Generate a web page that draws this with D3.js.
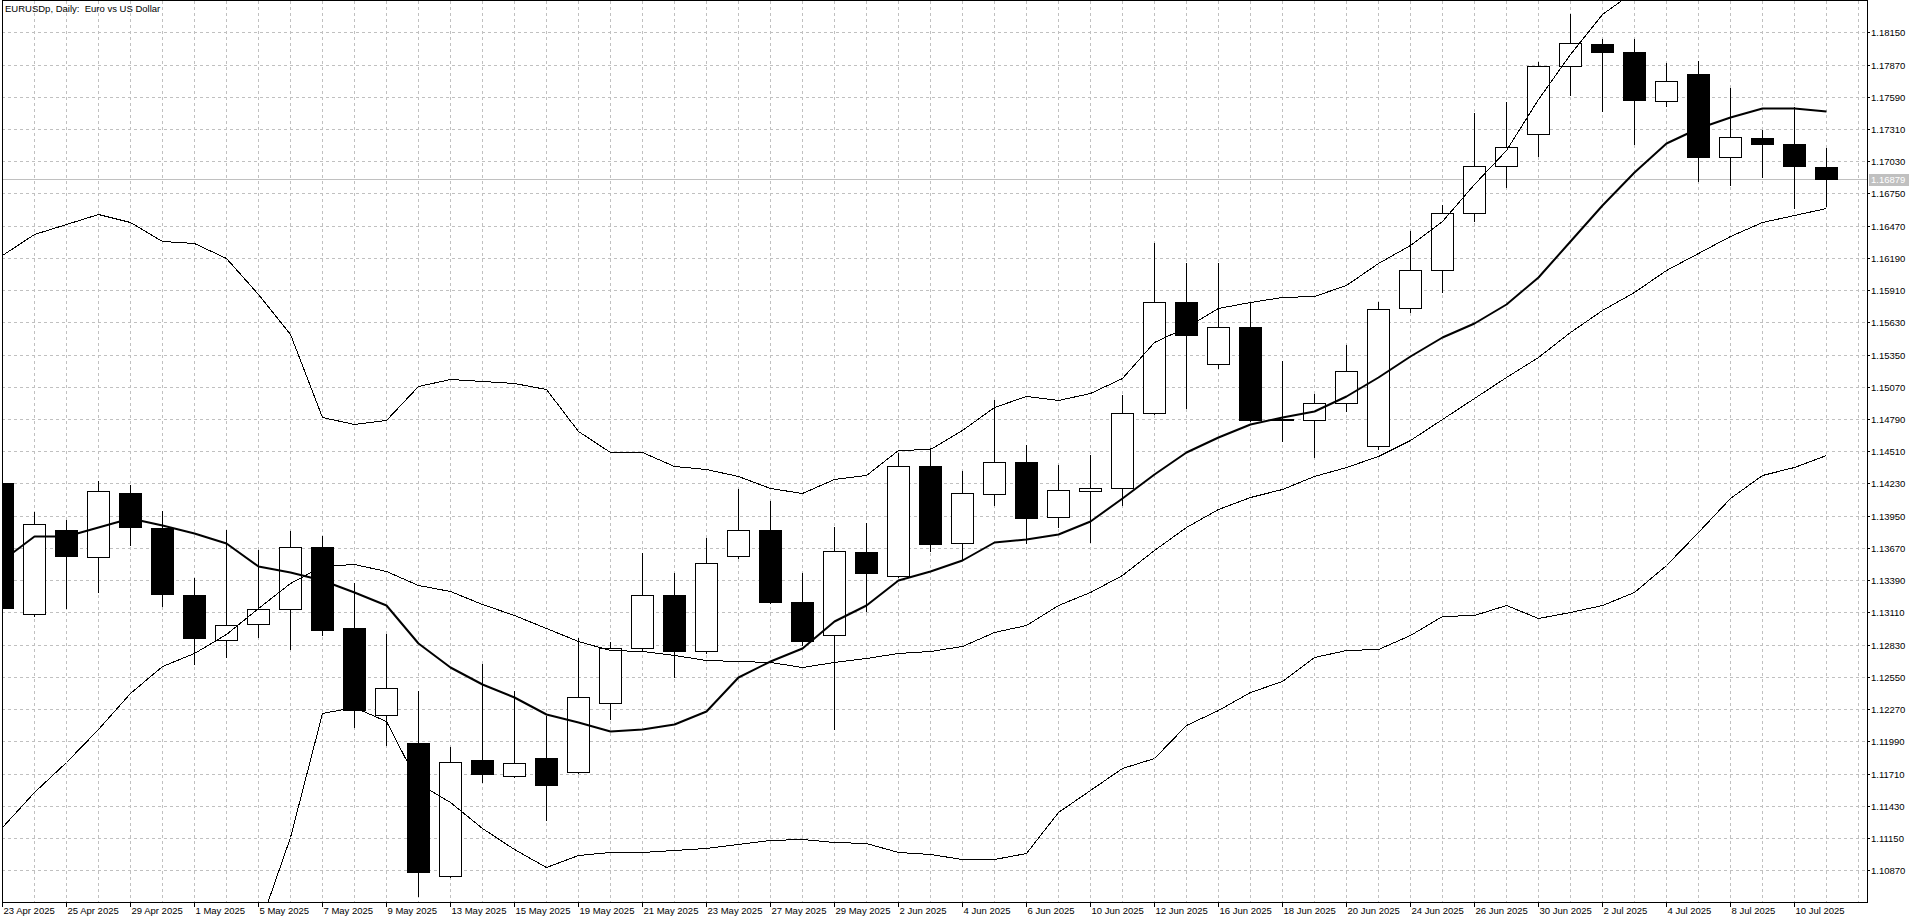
<!DOCTYPE html>
<html>
<head>
<meta charset="utf-8">
<title>EURUSDp, Daily</title>
<script src="https://cdn.jsdelivr.net/npm/d3@7"></script>
<style>
  html, body { margin: 0; padding: 0; background: #ffffff; }
  svg { display: block; font-family: "Liberation Sans", Arial, sans-serif; }
</style>
</head>
<body>
<svg id="chart" width="1920" height="923"></svg>
<script>
// daily bars
const dates = [
  "23 Apr 2025", "24 Apr 2025", "25 Apr 2025", "28 Apr 2025", "29 Apr 2025", "30 Apr 2025",
  "1 May 2025", "2 May 2025", "5 May 2025", "6 May 2025", "7 May 2025", "8 May 2025",
  "9 May 2025", "12 May 2025", "13 May 2025", "14 May 2025", "15 May 2025", "16 May 2025",
  "19 May 2025", "20 May 2025", "21 May 2025", "22 May 2025", "23 May 2025", "26 May 2025",
  "27 May 2025", "28 May 2025", "29 May 2025", "30 May 2025", "2 Jun 2025", "3 Jun 2025",
  "4 Jun 2025", "5 Jun 2025", "6 Jun 2025", "9 Jun 2025", "10 Jun 2025", "11 Jun 2025",
  "12 Jun 2025", "13 Jun 2025", "16 Jun 2025", "17 Jun 2025", "18 Jun 2025", "19 Jun 2025",
  "20 Jun 2025", "23 Jun 2025", "24 Jun 2025", "25 Jun 2025", "26 Jun 2025", "27 Jun 2025",
  "30 Jun 2025", "1 Jul 2025", "2 Jul 2025", "3 Jul 2025", "4 Jul 2025", "7 Jul 2025",
  "8 Jul 2025", "9 Jul 2025", "10 Jul 2025", "11 Jul 2025"
];

const open = [
  1.14231, 1.13092, 1.13829, 1.13594, 1.14151, 1.13840, 1.13257, 1.12866, 1.13007, 1.13137,
  1.13674, 1.12971, 1.12219, 1.11978, 1.10819, 1.11827, 1.11687, 1.11842, 1.11722, 1.12319,
  1.12801, 1.13257, 1.12776, 1.13599, 1.13829, 1.13202, 1.12911, 1.13634, 1.13428, 1.14381,
  1.13714, 1.14141, 1.14417, 1.13935, 1.14166, 1.14191, 1.14843, 1.15807, 1.15265, 1.15586,
  1.14790, 1.14778, 1.14933, 1.14552, 1.15751, 1.16083, 1.16579, 1.16991, 1.17267, 1.17854,
  1.18050, 1.17979, 1.17553, 1.17789, 1.17066, 1.17232, 1.17182, 1.16981
];
const high = [
  1.14260, 1.13980, 1.13910, 1.14251, 1.14216, 1.13990, 1.13413, 1.13824, 1.13649, 1.13815,
  1.13774, 1.13363, 1.12926, 1.12424, 1.11943, 1.12660, 1.12429, 1.12209, 1.12886, 1.12851,
  1.13629, 1.13448, 1.13754, 1.14186, 1.14075, 1.13448, 1.13855, 1.13890, 1.14492, 1.14542,
  1.14341, 1.14959, 1.14567, 1.14392, 1.14477, 1.14999, 1.16318, 1.16148, 1.16148, 1.15807,
  1.15295, 1.15004, 1.15435, 1.15807, 1.16424, 1.16650, 1.17448, 1.17543, 1.17889, 1.18306,
  1.18095, 1.18095, 1.17879, 1.17904, 1.17663, 1.17302, 1.17503, 1.17146
];
const low = [
  1.13120, 1.13080, 1.13147, 1.13287, 1.13699, 1.13162, 1.12660, 1.12725, 1.12896, 1.12796,
  1.12911, 1.12118, 1.11958, 1.10643, 1.10810, 1.11632, 1.11680, 1.11305, 1.11715, 1.12184,
  1.12771, 1.12550, 1.12761, 1.13584, 1.13195, 1.12826, 1.12098, 1.13122, 1.13420, 1.13639,
  1.13564, 1.14040, 1.13714, 1.13855, 1.13724, 1.14040, 1.14833, 1.14883, 1.15230, 1.14775,
  1.14602, 1.14457, 1.14858, 1.14532, 1.15721, 1.15897, 1.16514, 1.16810, 1.17076, 1.17603,
  1.17463, 1.17176, 1.17513, 1.16860, 1.16825, 1.16890, 1.16624, 1.16640
];
const close = [
  1.13147, 1.13880, 1.13604, 1.14166, 1.13850, 1.13272, 1.12891, 1.12997, 1.13142, 1.13674,
  1.12956, 1.12264, 1.12455, 1.10854, 1.11807, 1.11702, 1.11802, 1.11607, 1.12374, 1.12801,
  1.13257, 1.12776, 1.13543, 1.13829, 1.13202, 1.12861, 1.13639, 1.13453, 1.14381, 1.13704,
  1.14151, 1.14417, 1.13930, 1.14176, 1.14191, 1.14843, 1.15807, 1.15521, 1.15586, 1.14783,
  1.14783, 1.14928, 1.15210, 1.15746, 1.16083, 1.16584, 1.16991, 1.17156, 1.17854, 1.18055,
  1.17979, 1.17563, 1.17728, 1.17066, 1.17242, 1.17177, 1.16991, 1.16879
];

// moving average 10 (thick line)
const ma10 = [
  1.13564, 1.13774, 1.13774, 1.13850, 1.13930, 1.13865, 1.13804, 1.13714, 1.13513, 1.13463,
  1.13388, 1.13288, 1.13177, 1.12846, 1.12635, 1.12485, 1.12374, 1.12224, 1.12158, 1.12083,
  1.12093, 1.12143, 1.12249, 1.12550, 1.12685, 1.12801, 1.13037, 1.13177, 1.13388, 1.13473,
  1.13564, 1.13724, 1.13749, 1.13789, 1.13905, 1.14100, 1.14316, 1.14507, 1.14632, 1.14743,
  1.14808, 1.14858, 1.14994, 1.15155, 1.15335, 1.15506, 1.15621, 1.15786, 1.16022, 1.16338,
  1.16650, 1.16935, 1.17187, 1.17317, 1.17417, 1.17488, 1.17488, 1.17463
];

// bollinger bands 20 (thin lines)
const bbUpper = [
  1.16213, 1.16399, 1.16484, 1.16574, 1.16499, 1.16333, 1.16318, 1.16188, 1.15872, 1.15531,
  1.14808, 1.14748, 1.14783, 1.15079, 1.15134, 1.15119, 1.15104, 1.15054, 1.14683, 1.14502,
  1.14502, 1.14382, 1.14356, 1.14291, 1.14191, 1.14151, 1.14266, 1.14301, 1.14517, 1.14532,
  1.14692, 1.14893, 1.14994, 1.14959, 1.15019, 1.15144, 1.15455, 1.15586, 1.15756, 1.15807,
  1.15847, 1.15857, 1.15957, 1.16148, 1.16298, 1.16509, 1.16835, 1.17126, 1.17568, 1.17964,
  1.18306, 1.18506, 1.18652, 1.18661, 1.18662, 1.18697, 1.18741, 1.18773
];
const bbMiddle = [
  1.11245, 1.11546, 1.11807, 1.12098, 1.12409, 1.12645, 1.12760, 1.12926, 1.13152, 1.13363,
  1.13513, 1.13528, 1.13473, 1.13348, 1.13298, 1.13187, 1.13087, 1.12976, 1.12861, 1.12786,
  1.12771, 1.12736, 1.12700, 1.12685, 1.12675, 1.12635, 1.12680, 1.12710, 1.12761, 1.12771,
  1.12821, 1.12936, 1.13001, 1.13172, 1.13288, 1.13438, 1.13649, 1.13850, 1.14005, 1.14111,
  1.14181, 1.14291, 1.14377, 1.14467, 1.14607, 1.14793, 1.14969, 1.15159, 1.15330, 1.15546,
  1.15736, 1.15897, 1.16088, 1.16233, 1.16384, 1.16499, 1.16559, 1.16625
];
const bbLower = [
  1.06277, 1.06693, 1.07130, 1.07622, 1.08319, 1.08957, 1.09202, 1.09664, 1.10360, 1.11155,
  1.12234, 1.12284, 1.12168, 1.11625, 1.11465, 1.11240, 1.11055, 1.10894, 1.11004, 1.11029,
  1.11029, 1.11049, 1.11065, 1.11095, 1.11130, 1.11140, 1.11115, 1.11105, 1.11024, 1.11014,
  1.10969, 1.10969, 1.11019, 1.11380, 1.11566, 1.11757, 1.11842, 1.12133, 1.12259, 1.12419,
  1.12510, 1.12720, 1.12786, 1.12796, 1.12911, 1.13077, 1.13087, 1.13177, 1.13062, 1.13117,
  1.13177, 1.13288, 1.13524, 1.13805, 1.14106, 1.14301, 1.14377, 1.14477
];

const priceTicks = [
  1.18150, 1.17870, 1.17590, 1.17310, 1.17030, 1.16750, 1.16470, 1.16190, 1.15910,
  1.15630, 1.15350, 1.15070, 1.14790, 1.14510, 1.14230, 1.13950, 1.13670, 1.13390,
  1.13110, 1.12830, 1.12550, 1.12270, 1.11990, 1.11710, 1.11430, 1.11150, 1.10870
];
const lastPrice = 1.16879;
const title = "EURUSDp, Daily:  Euro vs US Dollar";

// layout
const plotLeft = 2, plotRight = 1867, plotTop = 1, plotBottom = 902;
const barStep = 32;
const fontSize = 9.5;
const gridColor = "#c0c0c0";

const svg = d3.select("#chart");

const x = d3.scaleLinear()
  .domain([0, dates.length - 1])
  .range([plotLeft, plotLeft + (dates.length - 1) * barStep]);

const y = d3.scaleLinear()
  .domain([priceTicks[priceTicks.length - 1], priceTicks[0]])
  .rangeRound([870.2, 32.3]);

svg.append("defs").append("clipPath").attr("id", "plot")
  .append("rect")
  .attr("x", plotLeft).attr("y", plotTop)
  .attr("width", plotRight - plotLeft).attr("height", plotBottom - plotTop);

// grid
const grid = svg.append("g")
  .attr("stroke", gridColor)
  .attr("stroke-dasharray", "3,3")
  .attr("shape-rendering", "crispEdges");

grid.selectAll("line.h")
  .data(priceTicks)
  .enter().append("line")
  .attr("class", "h")
  .attr("x1", plotLeft).attr("x2", plotRight)
  .attr("y1", d => y(d) + 0.5).attr("y2", d => y(d) + 0.5);

grid.selectAll("line.v")
  .data(d3.range(1, dates.length + 1))
  .enter().append("line")
  .attr("class", "v")
  .attr("x1", d => x(d) + 0.5).attr("x2", d => x(d) + 0.5)
  .attr("y1", plotTop).attr("y2", plotBottom);

// current price line
svg.append("line")
  .attr("x1", plotLeft).attr("x2", plotRight)
  .attr("y1", y(lastPrice) + 0.5).attr("y2", y(lastPrice) + 0.5)
  .attr("stroke", gridColor)
  .attr("shape-rendering", "crispEdges");

// candles
const bars = d3.range(dates.length).map(i => ({
  i: i, o: open[i], h: high[i], l: low[i], c: close[i]
}));

const candles = svg.append("g")
  .attr("clip-path", "url(#plot)")
  .attr("shape-rendering", "crispEdges");

candles.selectAll("line.wick")
  .data(bars)
  .enter().append("line")
  .attr("class", "wick")
  .attr("x1", d => x(d.i) + 0.5).attr("x2", d => x(d.i) + 0.5)
  .attr("y1", d => y(d.h)).attr("y2", d => y(d.l) + 1)
  .attr("stroke", "#000");

candles.selectAll("rect.body")
  .data(bars)
  .enter().append("rect")
  .attr("class", "body")
  .attr("x", d => x(d.i) - 10.5)
  .attr("width", 22)
  .attr("y", d => y(Math.max(d.o, d.c)) + 0.5)
  .attr("height", d => Math.max(0, y(Math.min(d.o, d.c)) - y(Math.max(d.o, d.c))))
  .attr("fill", d => d.c >= d.o ? "#ffffff" : "#000000")
  .attr("stroke", "#000");

// indicators
const line = d3.line()
  .x((d, i) => x(i) + 0.5)
  .y(d => y(d) + 0.5);

const lines = svg.append("g")
  .attr("clip-path", "url(#plot)")
  .attr("fill", "none")
  .attr("stroke", "#000");

[bbUpper, bbMiddle, bbLower].forEach(series => {
  lines.append("path")
    .attr("d", line(series))
    .attr("stroke-width", 1)
    .attr("shape-rendering", "crispEdges");
});

lines.append("path")
  .attr("d", line(ma10))
  .attr("stroke-width", 2)
  .attr("stroke-linejoin", "round");

// frame
svg.append("rect")
  .attr("x", plotLeft + 0.5).attr("y", plotTop - 0.5)
  .attr("width", plotRight - plotLeft).attr("height", plotBottom - plotTop + 1)
  .attr("fill", "none")
  .attr("stroke", "#000")
  .attr("shape-rendering", "crispEdges");

// price axis
const yAxis = d3.axisRight(y)
  .tickValues(priceTicks)
  .tickSize(3)
  .tickPadding(1)
  .tickFormat(d3.format(".5f"));

svg.append("g")
  .attr("transform", `translate(${plotRight},0)`)
  .call(yAxis)
  .call(g => g.select(".domain").remove())
  .call(g => g.selectAll("line").attr("shape-rendering", "crispEdges"))
  .call(g => g.selectAll("text")
    .attr("font-family", "'Liberation Sans', Arial, sans-serif")
    .attr("font-size", fontSize)
    .attr("fill", "#000"));

// date axis
const xAxis = d3.axisBottom(x)
  .tickValues(d3.range(0, dates.length, 2))
  .tickSize(5)
  .tickFormat(i => dates[i]);

svg.append("g")
  .attr("transform", `translate(0,${plotBottom})`)
  .call(xAxis)
  .call(g => g.select(".domain").remove())
  .call(g => g.selectAll("line").attr("shape-rendering", "crispEdges"))
  .call(g => g.selectAll("text")
    .attr("font-family", "'Liberation Sans', Arial, sans-serif")
    .attr("font-size", fontSize)
    .attr("text-anchor", "start")
    .attr("x", 1)
    .attr("y", 12)
    .attr("dy", 0)
    .attr("fill", "#000"));

// last price tag
const tagY = y(lastPrice);
svg.append("rect")
  .attr("x", plotRight + 2).attr("y", tagY - 5)
  .attr("width", 40).attr("height", 12)
  .attr("fill", "#c0c0c0");
svg.append("text")
  .attr("x", plotRight + 4).attr("y", tagY + 4)
  .attr("font-size", fontSize)
  .attr("fill", "#ffffff")
  .text(d3.format(".5f")(lastPrice));

// title
svg.append("text")
  .attr("x", 5).attr("y", 12)
  .attr("font-size", fontSize)
  .attr("fill", "#000")
  .style("white-space", "pre")
  .text(title);
</script>
</body>
</html>
